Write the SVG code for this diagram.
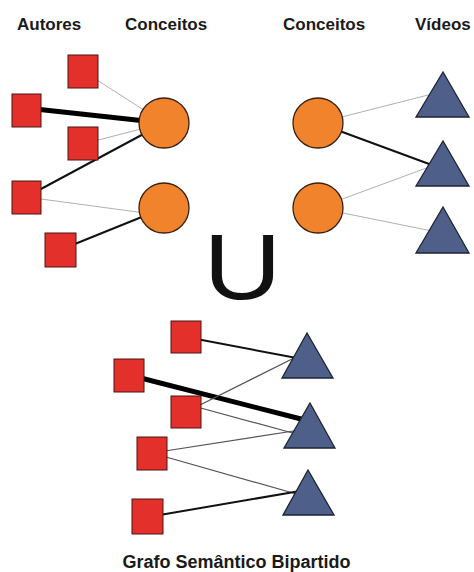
<svg xmlns="http://www.w3.org/2000/svg" width="474" height="572" viewBox="0 0 474 572">
<style>
.lbl{font-family:"Liberation Sans",Arial,sans-serif;font-weight:bold;font-size:17px;fill:#1a1a1a}
.sq{fill:#E3302B;stroke:#4a1515;stroke-width:1}
.ci{fill:#F0832C;stroke:#3a2010;stroke-width:1.3}
.tr{fill:#4E6089;stroke:#1c2333;stroke-width:1.3}
.lt{stroke:#b0b0b0;stroke-width:1;fill:none}
.dk{stroke:#555;stroke-width:1.2;fill:none}
.md{stroke:#111;stroke-width:2;fill:none}
.th{stroke:#000;stroke-width:5;fill:none}
</style>
<rect width="474" height="572" fill="#fff"/>
<g id="labels">
<text class="lbl" x="17" y="30">Autores</text>
<text class="lbl" x="125" y="30">Conceitos</text>
<text class="lbl" x="283" y="30">Conceitos</text>
<text class="lbl" x="415" y="30">Vídeos</text>
<text class="lbl" x="236.5" y="568" text-anchor="middle" style="font-size:18px">Grafo Semântico Bipartido</text>
<text x="0" y="0" text-anchor="middle" transform="translate(242.5,299) scale(1.16,1)" style="font-family:'Liberation Sans',Arial,sans-serif;font-size:93px;fill:#111">U</text>
</g>
<g id="connectors">
<line class="lt" x1="83" y1="71" x2="164" y2="123"/>
<line class="th" x1="26" y1="108" x2="164" y2="123"/>
<line class="lt" x1="83" y1="144" x2="164" y2="123"/>
<line class="md" x1="26" y1="197" x2="164" y2="123"/>
<line class="lt" x1="26" y1="197" x2="160" y2="215"/>
<line class="md" x1="60" y1="250" x2="164" y2="208"/>
<line class="lt" x1="318" y1="123" x2="440" y2="92"/>
<line class="md" x1="318" y1="123" x2="440" y2="168"/>
<line class="lt" x1="318" y1="208" x2="440" y2="163"/>
<line class="lt" x1="318" y1="208" x2="442" y2="233"/>
<line class="md" x1="186" y1="337" x2="302" y2="359"/>
<line class="th" x1="129" y1="375" x2="305" y2="420"/>
<line class="dk" x1="186" y1="412" x2="302" y2="354"/>
<line class="dk" x1="186" y1="404" x2="300" y2="435"/>
<line class="dk" x1="152" y1="453" x2="300" y2="430"/>
<line class="dk" x1="152" y1="453" x2="300" y2="495"/>
<line class="md" x1="148" y1="517" x2="300" y2="491"/>
</g>
<g id="a1"><rect class="sq" x="68" y="55" width="30" height="33"/></g>
<g id="a2"><rect class="sq" x="12" y="94" width="29" height="33"/></g>
<g id="a3"><rect class="sq" x="68" y="127" width="30" height="33"/></g>
<g id="a4"><rect class="sq" x="12" y="181" width="29" height="33"/></g>
<g id="a5"><rect class="sq" x="45" y="233" width="31" height="34"/></g>
<g id="c1"><circle class="ci" cx="164" cy="123" r="25"/></g>
<g id="c2"><circle class="ci" cx="164" cy="208" r="25"/></g>
<g id="c3"><circle class="ci" cx="318" cy="123" r="25"/></g>
<g id="c4"><circle class="ci" cx="318" cy="208" r="25"/></g>
<g id="v1"><polygon class="tr" points="443,72 469,117 416,117"/></g>
<g id="v2"><polygon class="tr" points="443,141 469,186 416,186"/></g>
<g id="v3"><polygon class="tr" points="443,207 469,253 416,253"/></g>
<g id="b1"><rect class="sq" x="171" y="321" width="30" height="32"/></g>
<g id="b2"><rect class="sq" x="114" y="359" width="30" height="33"/></g>
<g id="b3"><rect class="sq" x="171" y="396" width="30" height="32"/></g>
<g id="b4"><rect class="sq" x="137" y="437" width="30" height="33"/></g>
<g id="b5"><rect class="sq" x="132" y="499" width="31" height="35"/></g>
<g id="t1"><polygon class="tr" points="307,333 333,378 282,378"/></g>
<g id="t2"><polygon class="tr" points="310,403 335,448 284,448"/></g>
<g id="t3"><polygon class="tr" points="308,470 334,515 283,515"/></g>
</svg>
